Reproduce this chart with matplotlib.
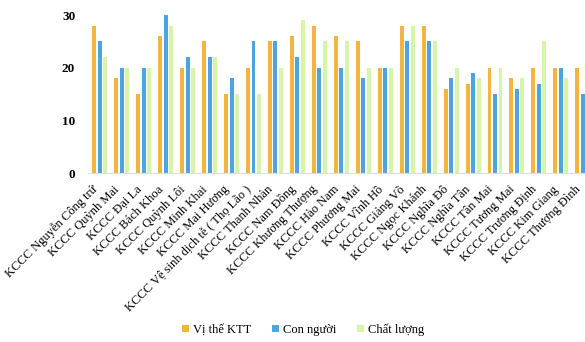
import numpy as np
import matplotlib.pyplot as plt
import matplotlib.transforms as mtransforms

# du lieu doc tu bieu do
cac_kccc = ['KCCC Nguyễn Công trứ', 'KCCC Quỳnh Mai', 'KCCC Đại La', 'KCCC Bách Khoa',
            'KCCC Quỳnh Lôi', 'KCCC Minh Khai', 'KCCC Mai Hương',
            'KCCC Vệ sinh dịch tễ ( Thọ Lão )', 'KCCC Thanh Nhàn', 'KCCC Nam Đồng',
            'KCCC Khương Thượng', 'KCCC Hào Nam', 'KCCC Phương Mai', 'KCCC Vĩnh Hồ',
            'KCCC Giảng Võ', 'KCCC Ngọc Khánh', 'KCCC Nghĩa Đô', 'KCCC Nghĩa Tân',
            'KCCC Tân Mai', 'KCCC Tương Mai', 'KCCC Trương Định', 'KCCC Kim Giang',
            'KCCC Thượng Đình']
vi_the = [28, 18, 15, 26, 20, 25, 15, 20, 25, 26, 28, 26, 25, 20, 28, 28, 16, 17, 20, 18, 20, 20, 20]
con_nguoi = [25, 20, 20, 30, 22, 22, 18, 25, 25, 22, 20, 20, 18, 20, 25, 25, 18, 19, 15, 16, 17, 20, 15]
chat_luong = [22, 20, 20, 28, 20, 22, 15, 15, 20, 29, 25, 25, 20, 20, 28, 25, 20, 18, 20, 18, 25, 18, 15]

plt.rcParams['font.family'] = ['Liberation Serif', 'DejaVu Serif']

fig = plt.figure(figsize=(5.85, 3.42), dpi=100)
ax = fig.add_axes([0.150, 0.494, 0.850, 0.462])

x = np.arange(len(cac_kccc))
w = 0.18
d = 0.25
ax.bar(x - d, vi_the, w, color='#F2B53F', label='Vị thế KTT')
ax.bar(x, con_nguoi, w, color='#4FA3DF', label='Con người')
ax.bar(x + d, chat_luong, w, color='#D6F5A8', label='Chất lượng')

ax.set_ylim(0, 30)
ax.set_xlim(-0.55, 22.1)
ax.set_yticks([0, 10, 20, 30])
ax.set_yticklabels(['0', '10', '20', '30'], fontsize=9.5, fontweight='bold')
ax.set_xticks(x)
ax.set_xticklabels(cac_kccc, rotation=45, ha='right', va='center', rotation_mode='anchor', fontsize=9)
ax.tick_params(axis='y', length=0, pad=9)
ax.tick_params(axis='x', length=0, pad=9)
# dich nhan truc x sang trai mot chut
dich = mtransforms.ScaledTranslation(-4/100, -2/100, fig.dpi_scale_trans)
for lb in ax.get_xticklabels():
    lb.set_transform(lb.get_transform() + dich)
for s in ['top', 'right', 'left']:
    ax.spines[s].set_visible(False)
ax.spines['bottom'].set_color('#DDDDDD')

fig.legend(loc='center', bbox_to_anchor=(0.518, 0.036), ncol=3, frameon=False,
           fontsize=9, handlelength=0.55, handleheight=0.55, handletextpad=0.3, columnspacing=1.7)

plt.savefig('out.png', dpi=100)
